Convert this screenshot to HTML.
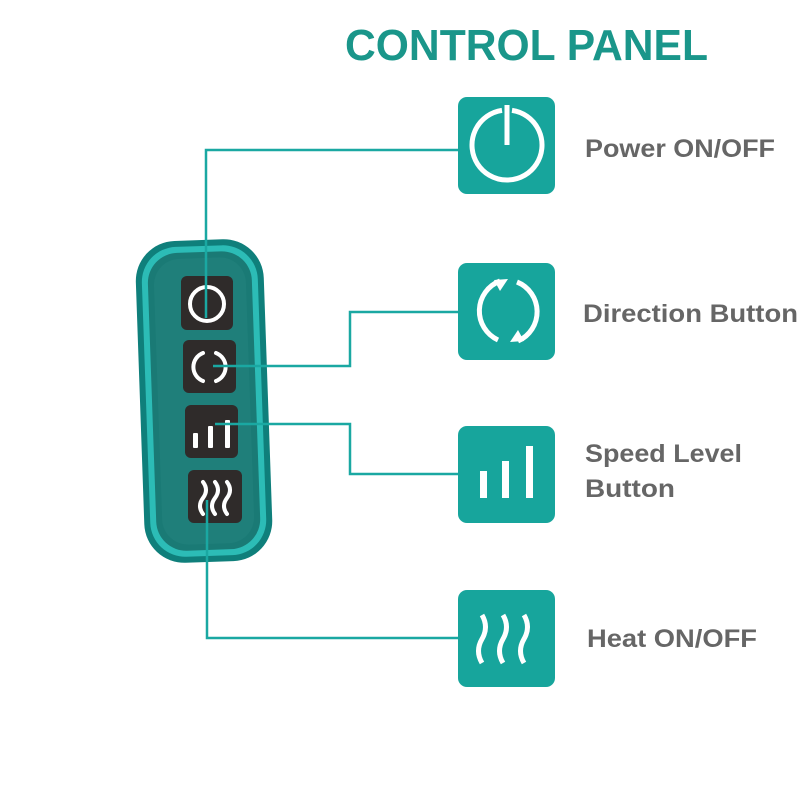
<!DOCTYPE html>
<html><head><style>
html,body{margin:0;padding:0;background:#fff;}
svg{display:block;}
text{font-family:"Liberation Sans",sans-serif;font-weight:bold;}
</style></head><body>
<svg width="800" height="800" viewBox="0 0 800 800" xmlns="http://www.w3.org/2000/svg">
<rect width="800" height="800" fill="#fff"/>
<text x="345" y="60" font-size="44" fill="#1a968a" textLength="363" lengthAdjust="spacingAndGlyphs">CONTROL PANEL</text>

<!-- panel -->
<g transform="rotate(-2 205 400)">
<rect x="140" y="240" width="128" height="322" rx="40" fill="#0f7f7b"/>
<rect x="146" y="246" width="116" height="310" rx="35" fill="#2cbcb6"/>
<rect x="152" y="252" width="104" height="298" rx="30" fill="#1a7a75"/>
<rect x="158" y="258" width="92" height="286" rx="26" fill="#1f7f7a"/>
</g>
<g fill="#2f2b2a">
<rect x="181" y="276" width="52" height="54" rx="6"/>
<rect x="183" y="340" width="53" height="53" rx="6"/>
<rect x="185" y="405" width="53" height="53" rx="6"/>
<rect x="188" y="470" width="54" height="53" rx="6"/>
</g>
<g stroke="#fff" stroke-width="4" fill="none" stroke-linecap="round">
<circle cx="207" cy="304" r="17"/>
<path d="M203 353 A15 15 0 0 0 203 381"/>
<path d="M216 353 A15 15 0 0 1 216 381"/>
<path d="M203 482 q6 8 0 16 q-6 8 0 16"/>
<path d="M215 482 q6 8 0 16 q-6 8 0 16"/>
<path d="M227 482 q6 8 0 16 q-6 8 0 16"/>
</g>
<g fill="#fff">
<rect x="193" y="433" width="5" height="15" rx="1"/>
<rect x="208" y="426" width="5" height="22" rx="1"/>
<rect x="225" y="420" width="5" height="28" rx="1"/>
</g>

<!-- connectors -->
<g stroke="#1aa8a2" stroke-width="2.5" fill="none">
<path d="M206 318 V150 H458"/>
<path d="M213 366 H350 V312 H458"/>
<path d="M215 424 H350 V474 H458"/>
<path d="M207 500 V638 H458"/>
</g>

<!-- icon boxes -->
<g fill="#17a59c">
<rect x="458" y="97" width="97" height="97" rx="9"/>
<rect x="458" y="263" width="97" height="97" rx="9"/>
<rect x="458" y="426" width="97" height="97" rx="9"/>
<rect x="458" y="590" width="97" height="97" rx="9"/>
</g>
<g stroke="#fff" stroke-width="5" fill="none">
<path d="M502 110.4 A35 35 0 1 0 512 110.4"/>
<line x1="507" y1="105" x2="507" y2="145"/>
<path d="M500 281 A32 32 0 0 0 498 340"/>
<path d="M517 282 A32 32 0 0 1 518 341"/>
<path d="M482 615 q7 12 0 24 q-7 12 0 24"/>
<path d="M503 615 q7 12 0 24 q-7 12 0 24"/>
<path d="M524 615 q7 12 0 24 q-7 12 0 24"/>
</g>
<g fill="#fff">
<polygon points="494,280 508,279 500,291"/>
<polygon points="524,341 510,342 518,330"/>
<rect x="480" y="471" width="7" height="27"/>
<rect x="502" y="461" width="7" height="37"/>
<rect x="526" y="446" width="7" height="52"/>
</g>

<g fill="#666" font-size="25">
<text x="585" y="157" textLength="190" lengthAdjust="spacingAndGlyphs">Power ON/OFF</text>
<text x="583" y="322" textLength="215" lengthAdjust="spacingAndGlyphs">Direction Button</text>
<text x="585" y="462" textLength="157" lengthAdjust="spacingAndGlyphs">Speed Level</text>
<text x="585" y="497" textLength="90" lengthAdjust="spacingAndGlyphs">Button</text>
<text x="587" y="647" textLength="170" lengthAdjust="spacingAndGlyphs">Heat ON/OFF</text>
</g>
</svg>
</body></html>
